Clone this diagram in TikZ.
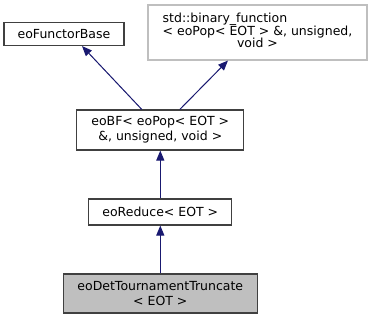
\documentclass[tikz,border=0pt]{standalone}
\usepackage{fontspec}
\setmainfont{DejaVu Sans}
\usepackage{tikz}
\usetikzlibrary{arrows.meta,positioning}
\definecolor{edgeblue}{HTML}{191970}
\definecolor{boxgray}{HTML}{BFBFBF}
\begin{document}
\begin{tikzpicture}[x=1pt, y=-1pt,
    cls/.style={draw=black!75, line width=1.1pt, inner sep=0pt, align=center, font=\fontsize{12.5}{15}\selectfont},
    arr/.style={{Triangle[length=10pt,width=8pt]}-, draw=edgeblue, fill=edgeblue, line width=1pt}
]
\useasboundingbox (0,0) rectangle (373,320);
\node[cls, minimum width=120pt, minimum height=23pt] (base) at (64,34) {eoFunctorBase};
\node[cls, draw=boxgray, minimum width=219pt, minimum height=55pt] (binfunc) at (257.5,32.5)
  {\begin{tabular}{@{}l@{}}std::binary\_function\\[-2.5pt] < eoPop< EOT > \&, unsigned,\\[-2.5pt] \multicolumn{1}{@{}c@{}}{void >}\end{tabular}};
\node[cls, minimum width=167pt, minimum height=40pt] (bf) at (160.3,130) {eoBF< eoPop< EOT >\\ \&, unsigned, void >};
\node[cls, minimum width=143pt, minimum height=26pt] (reduce) at (160.3,212) {eoReduce< EOT >};
\node[cls, fill=boxgray, minimum width=194pt, minimum height=39pt] (det) at (160.3,293.5) {eoDetTournamentTruncate\\< EOT >};

\draw[arr] ([xshift=18pt]base.south) -- ([xshift=-18.5pt]bf.north);
\draw[arr] ([xshift=-29.5pt]binfunc.south) -- ([xshift=19.5pt]bf.north);
\draw[arr] (bf.south) -- (reduce.north);
\draw[arr] (reduce.south) -- (det.north);
\end{tikzpicture}
\end{document}
